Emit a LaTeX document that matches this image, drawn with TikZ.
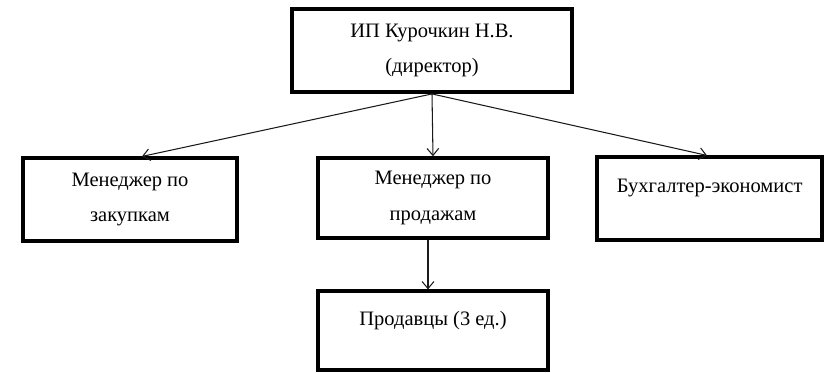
\documentclass[tikz,border=0pt]{standalone}
\usepackage{fontspec}
\setmainfont{Liberation Serif}
\newfontfamily\orgfont{Liberation Serif}
\usetikzlibrary{arrows.meta, positioning}
\definecolor{boxLine}{HTML}{000000}
\definecolor{linkLine}{HTML}{1A1A1A}

\begin{document}
\begin{tikzpicture}[
  font=\orgfont\fontsize{17.5}{30}\selectfont,
  >={Straight Barb[length=6pt, width=10pt]},
  unit/.style={draw=boxLine, line width=3pt, align=center,
    minimum width=6.9cm, minimum height=2.45cm, inner sep=0pt},
  link/.style={->, draw=linkLine, line width=0.9pt}
]

\useasboundingbox (0,0) rectangle (24.81,-11.16);

% =========================================================
% HEAD
% =========================================================

\node[unit, minimum width=8.4cm, minimum height=2.49cm] (head) at (12.96,-1.52)
{ИП Курочкин Н.В.\\(директор)};

% =========================================================
% SECOND LEVEL
% =========================================================

\node[unit, minimum width=6.42cm, minimum height=2.49cm] (buyer) at (3.90,-5.99)
{Менеджер по\\закупкам};

\node[unit, minimum height=2.40cm] (seller) at (12.99,-5.94)
{Менеджер по\\продажам};

\node[unit, minimum width=6.75cm, minimum height=2.49cm] (account) at (21.29,-5.96)
{Бухгалтер-экономист\\[-0.3cm]~};

% =========================================================
% THIRD LEVEL
% =========================================================

\node[unit, minimum height=2.37cm] (staff) at (12.99,-9.92)
{Продавцы (3 ед.)\\[-0.3cm]~};

% =========================================================
% LINKS
% =========================================================

\draw[link] (head.south) -- ([xshift=0.36cm]buyer.north);
\draw[link] (head.south) -- (seller.north);
\draw[link] (head.south) -- ([xshift=-0.08cm]account.north);
\draw[link] ([xshift=-0.15cm]seller.south) -- ([xshift=-0.15cm]staff.north);

\end{tikzpicture}
\end{document}
